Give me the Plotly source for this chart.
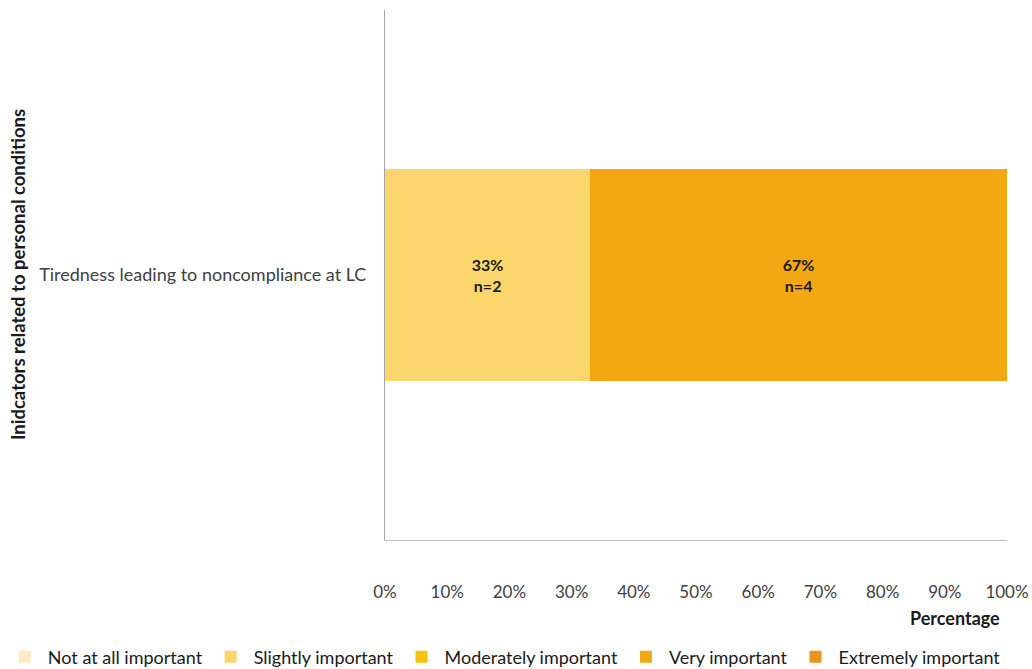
import plotly.graph_objects as go

categories = ["Tiredness leading to noncompliance at LC"]
levels = ["Not at all important", "Slightly important", "Moderately important",
          "Very important", "Extremely important"]
percent = [0, 33, 0, 67, 0]
counts = [0, 2, 0, 4, 0]
colors = ["#FCEBC2", "#FAD66C", "#F6C10F", "#F3A712", "#E8951E"]
tick_vals = [0, 10, 20, 30, 40, 50, 60, 70, 80, 90, 100]
tick_text = [f"{v}%" for v in tick_vals]

font_family = "Lato, 'Open Sans', sans-serif"

fig = go.Figure()
for lvl, p, n, c in zip(levels, percent, counts, colors):
    fig.add_trace(go.Bar(
        y=categories, x=[p], name=lvl, orientation="h",
        marker=dict(color=c, line=dict(width=0)),
        text=[f"<b>{p}%<br>n={n}</b>" if p > 0 else ""],
        textposition="inside", insidetextanchor="middle",
        textfont=dict(size=16, color="#1a1a1a", family=font_family),
        hoverinfo="skip",
    ))

fig.update_layout(
    barmode="stack",
    bargap=0.6,
    width=1032, height=669,
    margin=dict(l=385, r=25, t=10, b=129, autoexpand=False),
    paper_bgcolor="white", plot_bgcolor="white",
    font=dict(family=font_family, size=17, color="#404040"),
    showlegend=True,
    legend=dict(orientation="h", x=-0.616, y=-0.2208, xanchor="left", yanchor="middle",
                font=dict(size=18, color="#1a1a1a"), traceorder="normal",
                itemwidth=36),
    xaxis=dict(range=[0, 100], tickvals=tick_vals, ticktext=tick_text,
               showgrid=False, zeroline=False, showline=True, linecolor="#BFBFBF",
               linewidth=1, ticks="", tickfont=dict(size=17, color="#404040"),
               ticklabelstandoff=37, automargin=False),
    yaxis=dict(showgrid=False, zeroline=False, showline=True, linecolor="#A6A6A6",
               linewidth=1, ticks="", tickfont=dict(size=18, color="#404040"),
               ticklabelstandoff=14, automargin=False),
    annotations=[
        dict(text="<b>Percentage</b>", xref="paper", yref="paper", x=0.992, y=-0.148,
             xanchor="right", yanchor="middle", showarrow=False,
             font=dict(size=18, color="#1a1a1a")),
        dict(text="<b>Inidcators related to personal conditions</b>", xref="paper",
             yref="paper", x=-0.59, y=0.5, xanchor="center", yanchor="middle",
             textangle=-90, showarrow=False, font=dict(size=18.5, color="#1a1a1a")),
    ],
)

fig.write_html("out.html")
